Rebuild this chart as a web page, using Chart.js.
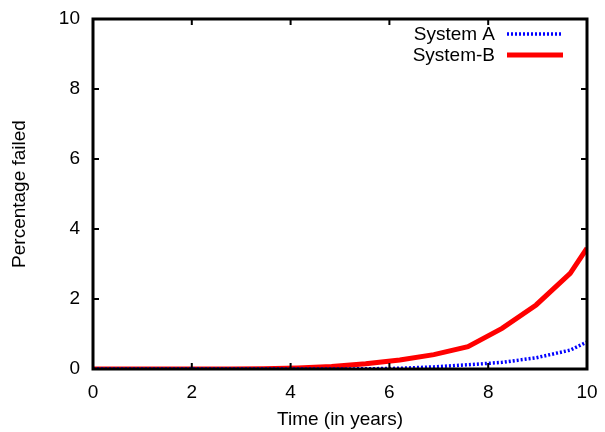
<!DOCTYPE html>
<html>
<head>
<meta charset="utf-8">
<script src="https://cdn.jsdelivr.net/npm/chart.js@4/dist/chart.umd.min.js"></script>
<style>
  html, body { margin: 0; padding: 0; background: #fff; }
  #wrap { width: 605px; height: 432px; }
</style>
</head>
<body>
<div id="wrap"><canvas id="c" width="605" height="432"></canvas></div>
<script>
// Sample times (years) and failure percentages for the two systems
const years   = [0, 0.69, 1.38, 2.07, 2.76, 3.45, 4.14, 4.83, 5.52, 6.21, 6.90, 7.59, 8.28, 8.97, 9.66, 10];
const systemA = [0, 0, 0, 0, 0, 0, 0, 0, 0.005, 0.02, 0.06, 0.12, 0.19, 0.32, 0.54, 0.77];
const systemB = [0, 0, 0, 0, 0, 0.005, 0.03, 0.07, 0.15, 0.26, 0.41, 0.64, 1.16, 1.83, 2.73, 3.45];
const seriesNames = ['System A', 'System-B'];
const xTicks = [0, 2, 4, 6, 8, 10];
const yTicks = [0, 2, 4, 6, 8, 10];

const FONT = 'Liberation Sans, Arial, Helvetica, sans-serif';
const FS = 19;

const toPts = (xs, ys) => xs.map((x, i) => ({ x: x, y: ys[i] }));

// Frame with inward tick marks on all four sides, plus an inset key
const framePlugin = {
  id: 'frame',
  afterDatasetsDraw(chart) {
    const { ctx, chartArea: a, scales } = chart;
    const xs = scales.x, ys = scales.y;
    const tl = 6;
    ctx.save();
    ctx.strokeStyle = '#000';
    ctx.lineWidth = 2;
    ctx.beginPath();
    xTicks.forEach(v => {
      const px = xs.getPixelForValue(v);
      ctx.moveTo(px, a.bottom); ctx.lineTo(px, a.bottom - tl);
      ctx.moveTo(px, a.top); ctx.lineTo(px, a.top + tl);
    });
    yTicks.forEach(v => {
      const py = ys.getPixelForValue(v);
      ctx.moveTo(a.left, py); ctx.lineTo(a.left + tl, py);
      ctx.moveTo(a.right, py); ctx.lineTo(a.right - tl, py);
    });
    ctx.stroke();
    ctx.lineWidth = 3;
    ctx.lineJoin = 'miter';
    ctx.strokeRect(a.left, a.top, a.right - a.left, a.bottom - a.top);

    // key
    const ds = chart.data.datasets;
    const textRight = a.right - 92;
    const x0 = a.right - 80, x1 = a.right - 24;
    ctx.font = FS + 'px ' + FONT;
    ctx.textAlign = 'right';
    ctx.textBaseline = 'middle';
    ds.forEach((d, i) => {
      const yy = a.top + 15 + i * 21;
      ctx.fillStyle = '#000';
      ctx.fillText(d.label, textRight, yy + 1);
      ctx.strokeStyle = d.borderColor;
      ctx.lineWidth = d.borderWidth;
      ctx.setLineDash(d.borderDash || []);
      ctx.lineCap = 'butt';
      ctx.beginPath();
      ctx.moveTo(x0, yy); ctx.lineTo(x1, yy);
      ctx.stroke();
    });
    ctx.restore();
  }
};

new Chart(document.getElementById('c'), {
  type: 'line',
  data: {
    datasets: [
      {
        label: seriesNames[0],
        data: toPts(years, systemA),
        borderColor: '#0000ff',
        borderWidth: 3.5,
        borderDash: [2, 2],
        pointRadius: 0,
        tension: 0,
        fill: false
      },
      {
        label: seriesNames[1],
        data: toPts(years, systemB),
        borderColor: '#ff0000',
        borderWidth: 5,
        pointRadius: 0,
        tension: 0,
        fill: false
      }
    ]
  },
  options: {
    responsive: false,
    animation: false,
    devicePixelRatio: 1,
    layout: { padding: { left: 0, right: 18, top: 19, bottom: 0 } },
    plugins: {
      legend: { display: false },
      tooltip: { enabled: false }
    },
    scales: {
      x: {
        type: 'linear',
        min: 0, max: 10,
        afterBuildTicks(s) { s.ticks = xTicks.map(v => ({ value: v })); },
        afterFit(s) { s.height = 63; s.paddingLeft = 0; s.paddingRight = 0; },
        grid: { display: false, drawTicks: false },
        border: { display: false },
        ticks: {
          color: '#000',
          font: { family: FONT, size: FS },
          padding: 12,
          maxRotation: 0
        },
        title: {
          display: true,
          text: 'Time (in years)',
          color: '#000',
          font: { family: FONT, size: FS },
          padding: { top: 0, bottom: 1 }
        }
      },
      y: {
        type: 'linear',
        min: 0, max: 10,
        afterBuildTicks(s) { s.ticks = yTicks.map(v => ({ value: v })); },
        afterFit(s) { s.width = 93; s.paddingTop = 0; s.paddingBottom = 0; },
        grid: { display: false, drawTicks: false },
        border: { display: false },
        ticks: {
          color: '#000',
          font: { family: FONT, size: FS },
          padding: 13
        },
        title: {
          display: true,
          text: 'Percentage failed',
          color: '#000',
          font: { family: FONT, size: FS },
          padding: { top: 8, bottom: 0 }
        }
      }
    }
  },
  plugins: [framePlugin]
});
</script>
</body>
</html>
